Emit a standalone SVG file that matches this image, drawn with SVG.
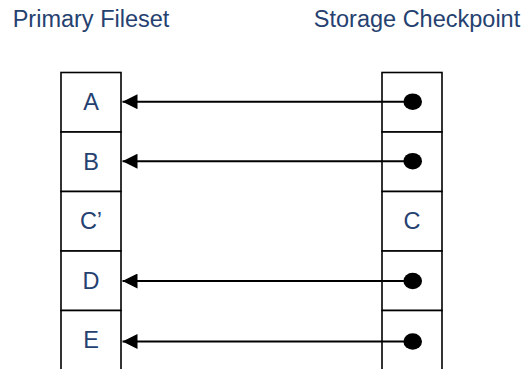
<svg xmlns="http://www.w3.org/2000/svg" width="526" height="369" viewBox="0 0 526 369">
  <style>
    .t { font-family: "Liberation Sans", Arial, sans-serif; font-size: 23.5px; fill: #254170; }
    .lbl { text-anchor: middle; }
    .cell { fill: #ffffff; stroke: #000000; stroke-width: 1.6; }
    .conn { stroke: #000000; stroke-width: 2; fill: none; }
  </style>
  <defs>
    <marker id="ah" viewBox="0 0 15 15" refX="15" refY="7.5" markerWidth="15" markerHeight="15" markerUnits="userSpaceOnUse" orient="auto">
      <path d="M0,0 L15,7.5 L0,15 Z" fill="#000000"/>
    </marker>
  </defs>
  <rect width="526" height="369" fill="#ffffff"/>

  <g id="title-primary"><text class="t lbl" x="91" y="27">Primary Fileset</text></g>
  <g id="title-checkpoint"><text class="t lbl" x="417" y="27">Storage Checkpoint</text></g>

  <g id="primary-A"><rect class="cell" x="61" y="72.5" width="60" height="59.5"/><text class="t lbl" x="91" y="110.3">A</text></g>
  <g id="primary-B"><rect class="cell" x="61" y="132" width="60" height="59.5"/><text class="t lbl" x="91" y="169.8">B</text></g>
  <g id="primary-C"><rect class="cell" x="61" y="191.5" width="60" height="59.5"/><text class="t lbl" x="91" y="229.3">C’</text></g>
  <g id="primary-D"><rect class="cell" x="61" y="251" width="60" height="59.5"/><text class="t lbl" x="91" y="288.8">D</text></g>
  <g id="primary-E"><rect class="cell" x="61" y="310.5" width="60" height="59.5"/><text class="t lbl" x="91" y="348.3">E</text></g>

  <g id="ckpt-A"><rect class="cell" x="382" y="72.5" width="60" height="59.5"/><ellipse cx="412.7" cy="101.7" rx="9.3" ry="8.3"/></g>
  <g id="ckpt-B"><rect class="cell" x="382" y="132" width="60" height="59.5"/><ellipse cx="412.7" cy="161.2" rx="9.3" ry="8.3"/></g>
  <g id="ckpt-C"><rect class="cell" x="382" y="191.5" width="60" height="59.5"/><text class="t lbl" x="412" y="229.3">C</text></g>
  <g id="ckpt-D"><rect class="cell" x="382" y="251" width="60" height="59.5"/><ellipse cx="412.7" cy="281" rx="9.3" ry="8.3"/></g>
  <g id="ckpt-E"><rect class="cell" x="382" y="310.5" width="60" height="59.5"/><ellipse cx="412.7" cy="341.5" rx="9.3" ry="8.3"/></g>

  <g id="connectors">
    <path class="conn" d="M412.7,101.7 H122.5" marker-end="url(#ah)"/>
    <path class="conn" d="M412.7,161.2 H122.5" marker-end="url(#ah)"/>
    <path class="conn" d="M412.7,281 H122.5" marker-end="url(#ah)"/>
    <path class="conn" d="M412.7,341.5 H122.5" marker-end="url(#ah)"/>
  </g>
</svg>
